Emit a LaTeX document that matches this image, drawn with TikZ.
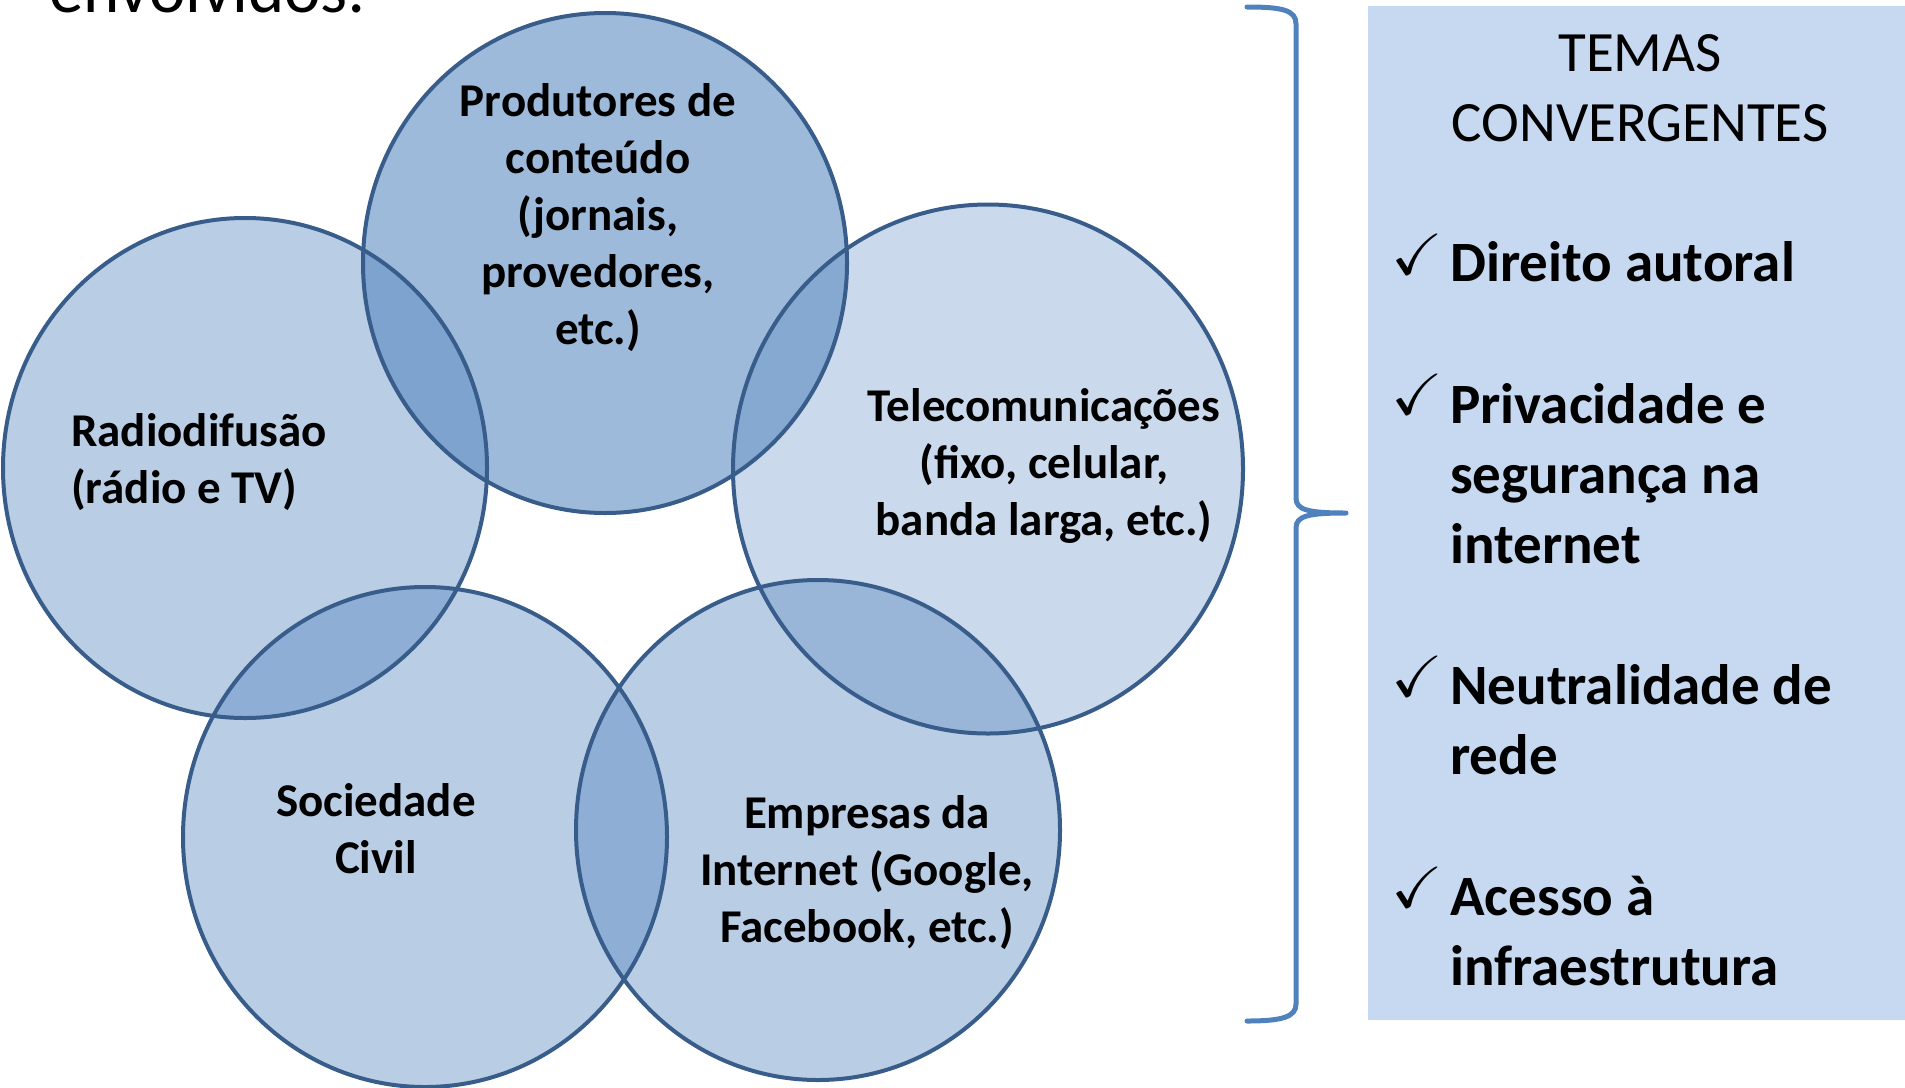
\documentclass[tikz,border=0pt]{standalone}
\usepackage{fontspec}
\setmainfont{Carlito}
\usepackage{amssymb}
\usepackage{graphicx}
\usetikzlibrary{shapes.geometric}
\definecolor{acc}{HTML}{4F81BD}
\definecolor{edge}{HTML}{385D8A}
\definecolor{panel}{HTML}{C6D9F0}
\newcommand{\tickmark}{\scalebox{6.2}[5.8]{$\checkmark$}}
\begin{document}
\begin{tikzpicture}[x=1pt,y=-1pt,
  venn/.style={ellipse, inner sep=0pt, minimum width=484pt, minimum height=500pt, fill=acc},
  ring/.style={draw=edge, line width=4pt},
  lbl/.style={font=\fontsize{47}{57}\selectfont\bfseries, align=center, anchor=base, inner sep=0pt},
  item/.style={font=\fontsize{57}{70}\selectfont\bfseries, align=left, anchor=base west, inner sep=0pt},
  tick/.style={anchor=south west, inner sep=0pt}]
\useasboundingbox (0,0) rectangle (1905,1087);
\clip (0,0) rectangle (1905,1087);
% cut-off heading
\node[anchor=base west, inner sep=0pt, font=\fontsize{69}{80}\selectfont] (envolv) at (49,12) {envolvidos:};
% circles (fills)
\node[venn, fill opacity=0.55] (prod) at (605,263) {};
\node[venn, fill opacity=0.40] (radio) at (245,468) {};
\node[venn, fill opacity=0.30, minimum width=510pt, minimum height=529pt] (tele) at (988,469) {};
\node[venn, fill opacity=0.40] (soc) at (425,837) {};
\node[venn, fill opacity=0.40] (emp) at (818,830) {};
% circle outlines
\draw[ring] (prod.center) ellipse [x radius=242, y radius=250];
\draw[ring] (radio.center) ellipse [x radius=242, y radius=250];
\draw[ring] (tele.center) ellipse [x radius=255, y radius=264.5];
\draw[ring] (soc.center) ellipse [x radius=242, y radius=250];
\draw[ring] (emp.center) ellipse [x radius=242, y radius=250];
% circle labels (anchor = baseline of last line)
\node[lbl] (tprod) at (598,344) {Produtores de\\conteúdo\\(jornais,\\provedores,\\etc.)};
\node[lbl, align=left, anchor=base west] (tradio) at (71,503) {Radiodifusão\\(rádio e TV)};
\node[lbl] (ttele) at (1044,535) {Telecomunicações\\(fixo, celular,\\banda larga, etc.)};
\node[lbl] (tsoc) at (376,873) {Sociedade\\Civil};
\node[lbl] (temp) at (867,942) {Empresas da\\Internet (Google,\\Facebook, etc.)};
% brace
\draw[acc, line width=5pt, line cap=round, line join=round]
  (1247,7) .. controls (1282,7) and (1296,10) .. (1296,24) -- (1296,498)
  .. controls (1296,510) and (1308,513) .. (1346,513)
  .. controls (1308,513) and (1296,516) .. (1296,528) -- (1296,1004)
  .. controls (1296,1017) and (1282,1021) .. (1247,1021);
% panel
\node[fill=panel, anchor=north west, inner sep=0pt, minimum width=537pt, minimum height=1014pt] (panel) at (1368,6) {};
\node[anchor=base, align=center, inner sep=0pt, font=\fontsize{57}{70}\selectfont] (title) at (1640,141) {TEMAS\\CONVERGENTES};
\node[tick] (k1) at (1391,275) {\tickmark};
\node[item] (i1) at (1450,281) {Direito autoral};
\node[tick] (k2) at (1391,415) {\tickmark};
\node[item] (i2) at (1450,563) {Privacidade e\\segurança na\\internet};
\node[tick] (k3) at (1391,697) {\tickmark};
\node[item] (i3) at (1450,774) {Neutralidade de\\rede};
\node[tick] (k4) at (1391,908) {\tickmark};
\node[item] (i4) at (1450,985) {Acesso à\\infraestrutura};
\end{tikzpicture}
\end{document}
